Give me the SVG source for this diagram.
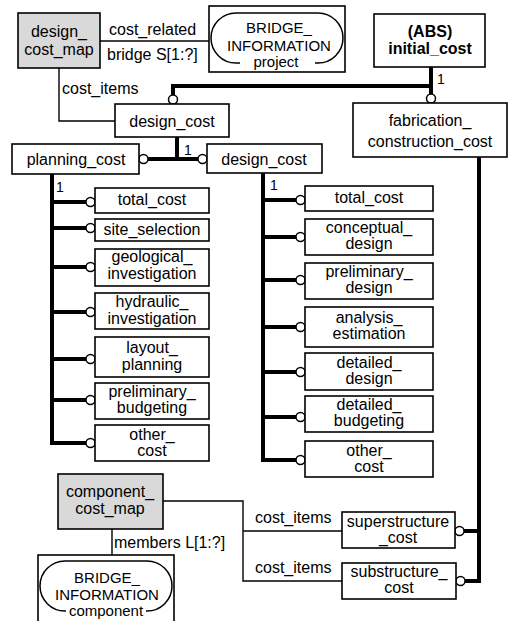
<svg xmlns="http://www.w3.org/2000/svg" width="513" height="621" viewBox="0 0 513 621">
  <style>
    text { font-family: "Liberation Sans", Arial, sans-serif; font-size: 16px; fill: #000; }
    .m { text-anchor: middle; }
    .b { font-weight: bold; }
    .s { font-size: 15px; }
    .one { font-size: 14px; }
    .box { fill: #fff; stroke: #000; stroke-width: 1.6; }
    .map { fill: #d9d9d9; stroke: #000; stroke-width: 1.6; }
    .ref { fill: none; stroke: #000; stroke-width: 1.5; }
    .thin { fill: none; stroke: #000; stroke-width: 1.4; }
    .thick { fill: none; stroke: #000; stroke-width: 4; stroke-linejoin: miter; }
    .c { fill: #fff; stroke: #000; stroke-width: 1.5; }
  </style>

  <!-- connectors -->
  <g id="connectors">
    <!-- thin attribute lines -->
    <path class="thin" d="M100 41 H211"/>
    <path class="thin" d="M59 68 V121 H115"/>
    <path class="thin" d="M163 501 H243 V581 H342 M243 531 H342"/>
    <path class="thin" d="M112 529 V555"/>
    <text x="109" y="35">cost_related</text>
    <text x="107" y="60">bridge S[1:?]</text>
    <text x="62" y="94">cost_items</text>
    <text x="255" y="523">cost_items</text>
    <text x="255" y="573">cost_items</text>
    <text x="114" y="548">members L[1:?]</text>

    <!-- supertype tree -->
    <path class="thick" d="M431 67 V94 M431 86 H173 V95"/>
    <circle class="c" cx="431" cy="98.5" r="4.5"/>
    <circle class="c" cx="173" cy="99.5" r="4.5"/>
    <text class="one" x="437" y="84">1</text>

    <!-- design_cost children -->
    <path class="thick" d="M177 137 V159 M148 159 H198"/>
    <circle class="c" cx="143.5" cy="159" r="4.5"/>
    <circle class="c" cx="202.5" cy="159" r="4.5"/>
    <text class="one" x="184" y="155">1</text>

    <!-- planning_cost attributes -->
    <path class="thick" d="M52 174 V443 H86 M52 202 H86 M52 228 H86 M52 267 H86 M52 312 H86 M52 359 H86 M52 400 H86"/>
    <circle class="c" cx="90.5" cy="202" r="4.5"/>
    <circle class="c" cx="90.5" cy="228" r="4.5"/>
    <circle class="c" cx="90.5" cy="267" r="4.5"/>
    <circle class="c" cx="90.5" cy="312" r="4.5"/>
    <circle class="c" cx="90.5" cy="359" r="4.5"/>
    <circle class="c" cx="90.5" cy="400" r="4.5"/>
    <circle class="c" cx="90.5" cy="443" r="4.5"/>
    <text class="one" x="56" y="192">1</text>

    <!-- design_cost attributes -->
    <path class="thick" d="M263 173 V460 H296 M263 200 H296 M263 237 H296 M263 280 H296 M263 327 H296 M263 372 H296 M263 417 H296"/>
    <circle class="c" cx="300.5" cy="200" r="4.5"/>
    <circle class="c" cx="300.5" cy="237" r="4.5"/>
    <circle class="c" cx="300.5" cy="280" r="4.5"/>
    <circle class="c" cx="300.5" cy="327" r="4.5"/>
    <circle class="c" cx="300.5" cy="372" r="4.5"/>
    <circle class="c" cx="300.5" cy="417" r="4.5"/>
    <circle class="c" cx="300.5" cy="460" r="4.5"/>
    <text class="one" x="270" y="190">1</text>

    <!-- fabrication_construction_cost attributes -->
    <path class="thick" d="M479 157 V581 H465 M479 531 H464"/>
    <circle class="c" cx="459.5" cy="531" r="4.5"/>
    <circle class="c" cx="460.5" cy="581" r="4.5"/>
  </g>

  <!-- mapping entities -->
  <g id="design_cost_map">
    <rect class="map" x="18" y="13" width="82" height="55"/>
    <text class="m" x="59" y="37">design_</text>
    <text class="m" x="59" y="55">cost_map</text>
  </g>

  <g id="bridge_information_project">
    <rect class="box" x="209" y="6" width="136" height="66"/>
    <path class="ref" d="M240 63 H236 A25 25 0 0 1 236 13 H318 A25 25 0 0 1 318 63 H315"/>
    <text class="m s" x="279" y="33">BRIDGE_</text>
    <text class="m s" x="279" y="51">INFORMATION</text>
    <text class="m s" x="276" y="67">project</text>
  </g>

  <g id="initial_cost">
    <rect class="box" x="374" y="14" width="111" height="53"/>
    <text class="m b" x="430" y="37">(ABS)</text>
    <text class="m b" x="430" y="54">initial_cost</text>
  </g>

  <g id="fabrication_construction_cost">
    <rect class="box" x="353" y="103" width="154" height="54"/>
    <text class="m" x="430" y="126">fabrication_</text>
    <text class="m" x="430" y="147">construction_cost</text>
  </g>

  <g id="design_cost">
    <rect class="box" x="115" y="104" width="114" height="33"/>
    <text class="m" x="172" y="127">design_cost</text>
  </g>

  <g id="planning_cost">
    <rect class="box" x="12" y="144" width="127" height="30"/>
    <text class="m" x="76" y="165">planning_cost</text>
  </g>

  <g id="design_cost_sub">
    <rect class="box" x="207" y="144" width="115" height="29"/>
    <text class="m" x="264" y="165">design_cost</text>
  </g>

  <!-- planning_cost attributes -->
  <g id="p_total_cost">
    <rect class="box" x="95" y="188" width="114" height="25"/>
    <text class="m" x="152" y="205">total_cost</text>
  </g>
  <g id="p_site_selection">
    <rect class="box" x="95" y="219" width="114" height="22"/>
    <text class="m" x="152" y="235">site_selection</text>
  </g>
  <g id="p_geological_investigation">
    <rect class="box" x="95" y="249" width="114" height="37"/>
    <text class="m" x="152" y="262">geological_</text>
    <text class="m" x="152" y="279">investigation</text>
  </g>
  <g id="p_hydraulic_investigation">
    <rect class="box" x="95" y="293" width="114" height="36"/>
    <text class="m" x="152" y="307">hydraulic_</text>
    <text class="m" x="152" y="324">investigation</text>
  </g>
  <g id="p_layout_planning">
    <rect class="box" x="95" y="337" width="114" height="40"/>
    <text class="m" x="152" y="353">layout_</text>
    <text class="m" x="152" y="370">planning</text>
  </g>
  <g id="p_preliminary_budgeting">
    <rect class="box" x="95" y="383" width="114" height="36"/>
    <text class="m" x="152" y="397">preliminary_</text>
    <text class="m" x="152" y="413">budgeting</text>
  </g>
  <g id="p_other_cost">
    <rect class="box" x="95" y="425" width="114" height="36"/>
    <text class="m" x="152" y="440">other_</text>
    <text class="m" x="152" y="456">cost</text>
  </g>

  <!-- design_cost attributes -->
  <g id="d_total_cost">
    <rect class="box" x="305" y="186" width="128" height="25"/>
    <text class="m" x="369" y="203">total_cost</text>
  </g>
  <g id="d_conceptual_design">
    <rect class="box" x="305" y="219" width="128" height="36"/>
    <text class="m" x="369" y="233">conceptual_</text>
    <text class="m" x="369" y="249">design</text>
  </g>
  <g id="d_preliminary_design">
    <rect class="box" x="305" y="263" width="128" height="36"/>
    <text class="m" x="369" y="277">preliminary_</text>
    <text class="m" x="369" y="293">design</text>
  </g>
  <g id="d_analysis_estimation">
    <rect class="box" x="305" y="307" width="128" height="40"/>
    <text class="m" x="369" y="323">analysis_</text>
    <text class="m" x="369" y="339">estimation</text>
  </g>
  <g id="d_detailed_design">
    <rect class="box" x="305" y="353" width="128" height="37"/>
    <text class="m" x="369" y="368">detailed_</text>
    <text class="m" x="369" y="384">design</text>
  </g>
  <g id="d_detailed_budgeting">
    <rect class="box" x="305" y="396" width="128" height="36"/>
    <text class="m" x="369" y="410">detailed_</text>
    <text class="m" x="369" y="426">budgeting</text>
  </g>
  <g id="d_other_cost">
    <rect class="box" x="305" y="441" width="128" height="36"/>
    <text class="m" x="369" y="456">other_</text>
    <text class="m" x="369" y="472">cost</text>
  </g>

  <!-- component mapping -->
  <g id="component_cost_map">
    <rect class="map" x="58" y="474" width="105" height="55"/>
    <text class="m" x="110" y="497">component_</text>
    <text class="m" x="110" y="514">cost_map</text>
  </g>

  <g id="superstructure_cost">
    <rect class="box" x="342" y="512" width="113" height="36"/>
    <text class="m" x="398" y="527">superstructure</text>
    <text class="m" x="398" y="543">_cost</text>
  </g>

  <g id="substructure_cost">
    <rect class="box" x="342" y="563" width="114" height="36"/>
    <text class="m" x="399" y="577">substructure_</text>
    <text class="m" x="399" y="593">cost</text>
  </g>

  <g id="bridge_information_component">
    <rect class="box" x="38" y="555" width="136" height="75"/>
    <path class="ref" d="M66 611 H65 A25 25 0 0 1 65 561 H147 A25 25 0 0 1 147 611 H146"/>
    <text class="m s" x="107" y="583">BRIDGE_</text>
    <text class="m s" x="107" y="600">INFORMATION</text>
    <text class="m s" x="106" y="616">component</text>
  </g>
</svg>
